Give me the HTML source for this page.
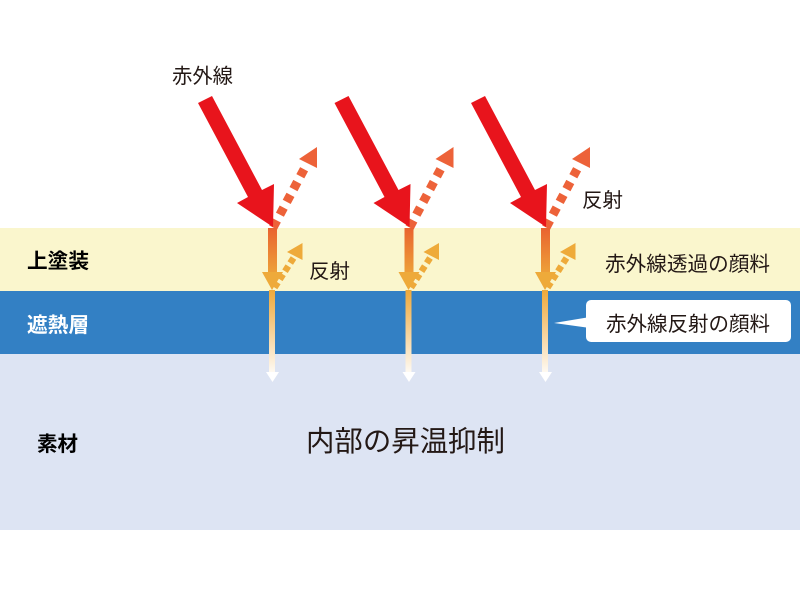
<!DOCTYPE html>
<html lang="ja"><head><meta charset="utf-8"><style>
html,body{margin:0;padding:0;background:#fff}
svg{display:block}
text{font-family:"Liberation Sans","Noto Sans CJK JP",sans-serif;fill:#231815}
</style></head><body>
<svg width="800" height="600" viewBox="0 0 800 600" xmlns="http://www.w3.org/2000/svg">
<defs>
<linearGradient id="g1" gradientUnits="userSpaceOnUse" x1="0" y1="228" x2="0" y2="280"><stop offset="0" stop-color="#e9632f"/><stop offset="1" stop-color="#eeaa3a"/></linearGradient>
<linearGradient id="g2" gradientUnits="userSpaceOnUse" x1="0" y1="290" x2="0" y2="378"><stop offset="0" stop-color="#eea83a"/><stop offset="1" stop-color="#ffffff"/></linearGradient>
<g id="a">
<path d="M273.100 227.500L305 167.500" stroke="#ed6239" stroke-width="9" stroke-dasharray="8 6.500" fill="none"/>
<path d="M317 147L299 159L317 168Z" fill="#ed6239"/>
<path d="M198 103L212 96L262 190L274 184L273 227L237 203L248 197Z" fill="#e8141c"/>
<rect x="268" y="228" width="9" height="45" fill="url(#g1)"/>
<path d="M293.500 258L273 290" stroke="#eeaa3a" stroke-width="6.500" stroke-dasharray="6 3.700" fill="none"/>
<path d="M302.500 243L287 252L302.500 260Z" fill="#eeaa3a"/>
<path d="M262 272H283L272 290Z" fill="#eeaa3a"/>
<rect x="269" y="290" width="6" height="83" fill="url(#g2)"/>
<path d="M266 372H279L272.500 382Z" fill="#fff"/>
</g>
</defs>
<rect x="0" y="228" width="800" height="63" fill="#faf6cd"/>
<rect x="0" y="291" width="800" height="63" fill="#3380c4"/>
<rect x="0" y="354" width="800" height="176" fill="#dde4f3"/>
<use href="#a"/>
<use href="#a" x="136.500"/>
<use href="#a" x="273"/>
<path d="M554 323L590 317V328Z" fill="#fff"/>
<rect x="586" y="300" width="205" height="42" rx="5" fill="#fff"/>
<text x="172" y="83" font-size="20.500" textLength="61" lengthAdjust="spacingAndGlyphs">赤外線</text>
<text x="582" y="207" font-size="20" textLength="41" lengthAdjust="spacingAndGlyphs">反射</text>
<text x="309" y="278" font-size="20" textLength="41" lengthAdjust="spacingAndGlyphs">反射</text>
<text x="605" y="271" font-size="20.500" textLength="165" lengthAdjust="spacingAndGlyphs">赤外線透過の顔料</text>
<text x="606" y="331" font-size="20.500" textLength="164" lengthAdjust="spacingAndGlyphs">赤外線反射の顔料</text>
<text x="306" y="451" font-size="28.500" textLength="199" lengthAdjust="spacingAndGlyphs">内部の昇温抑制</text>
<text x="27" y="268" font-size="20.500" font-weight="700" style="fill:#000" textLength="62" lengthAdjust="spacingAndGlyphs">上塗装</text>
<text x="27" y="332" font-size="20.500" font-weight="700" style="fill:#fff" textLength="62" lengthAdjust="spacingAndGlyphs">遮熱層</text>
<text x="37" y="451" font-size="20.500" font-weight="700" style="fill:#000" textLength="41" lengthAdjust="spacingAndGlyphs">素材</text>
</svg>
</body></html>
